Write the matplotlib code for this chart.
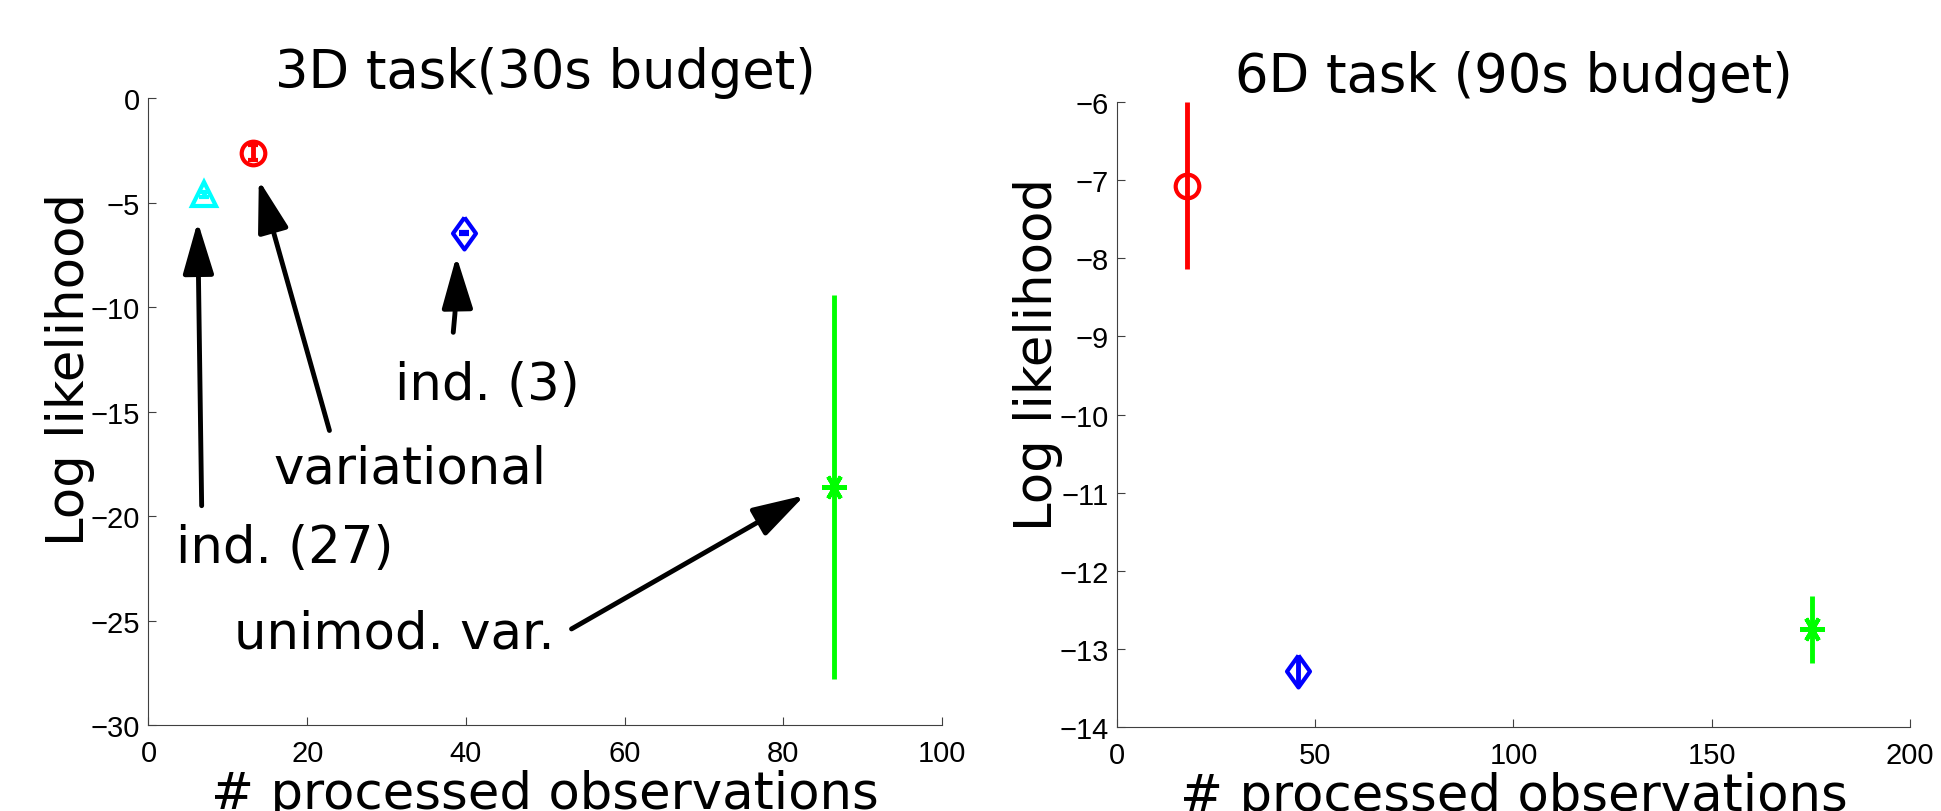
import numpy as np
import matplotlib.pyplot as plt

# 3D task (30s budget)
names_3d = ['ind. (27)', 'variational', 'ind. (3)', 'unimod. var.']
obs_3d = [7.0, 13.2, 39.7, 86.4]
ll_3d = [-4.6, -2.6, -6.45, -18.6]
err_3d = [0.12, 0.35, 0.05, 9.2]

# 6D task (90s budget)
names_6d = ['variational', 'ind. (3)', 'unimod. var.']
obs_6d = [17.7, 45.6, 175.3]
ll_6d = [-7.07, -13.28, -12.75]
err_6d = [1.07, 0.18, 0.43]

xticks_3d = [0, 20, 40, 60, 80, 100]
yticks_3d = [0, -5, -10, -15, -20, -25, -30]
xticks_6d = [0, 50, 100, 150, 200]
yticks_6d = [-6, -7, -8, -9, -10, -11, -12, -13, -14]

# annotation layout (text pos, arrow tail, arrow head, curvature)
notes_3d = [
    ('ind. (27)', (3.5, -22.2), (6.7, -19.5), (6.2, -5.9), 0.0),
    ('variational', (15.8, -18.4), (22.8, -15.9), (13.9, -3.9), 0.0),
    ('ind. (3)', (31.1, -14.4), (38.4, -11.2), (38.8, -7.55), 0.03),
    ('unimod. var.', (10.8, -26.3), (53.3, -25.4), (82.7, -19.0), 0.0),
]

diamond = [(0, 1), (0.72, 0), (0, -1), (-0.72, 0), (0, 1)]
style = {
    'ind. (27)': dict(color=(0, 1, 1), marker='^', ms=17),
    'variational': dict(color=(1, 0, 0), marker='o', ms=17),
    'ind. (3)': dict(color=(0, 0, 1), marker=diamond, ms=23),
    'unimod. var.': dict(color=(0, 1, 0), marker=(6, 2, 90), ms=18),
}

plt.rcParams['font.family'] = ['Liberation Sans', 'DejaVu Sans']
big = dict(family='DejaVu Sans', fontsize=37)

fig = plt.figure(figsize=(19.41, 8.12), dpi=100)
ax1 = fig.add_axes([0.0765, 0.1059, 0.4089, 0.7717])
ax2 = fig.add_axes([0.5755, 0.1034, 0.4085, 0.7697])


def draw(ax, names, xs, ys, errs, cap_small):
    for n, x, y, e in zip(names, xs, ys, errs):
        st = style[n]
        cs = 3.5 if (cap_small and e < 1) else 0
        ax.errorbar([x], [y], yerr=[e], fmt='none', ecolor=st['color'],
                    elinewidth=3.5, capsize=cs, capthick=3, zorder=2)
        ax.plot([x], [y], ls='none', marker=st['marker'], ms=st['ms'],
                mfc='none', mec=st['color'], mew=3, zorder=3)


draw(ax1, names_3d, obs_3d, ll_3d, err_3d, True)
draw(ax2, names_6d, obs_6d, ll_6d, err_6d, False)

for label, tpos, tail, head, rad in notes_3d:
    ax1.text(tpos[0], tpos[1], label, ha='left', va='baseline', **big)
    ax1.annotate('', xy=head, xytext=tail,
                 arrowprops=dict(arrowstyle='-|>,head_length=3.2,head_width=0.95',
                                 lw=3.5, color='k', shrinkA=0, shrinkB=0,
                                 mutation_scale=10,
                                 connectionstyle='arc3,rad=%s' % rad))

for ax, title, xt, yt in [(ax1, '3D task(30s budget)', xticks_3d, yticks_3d),
                          (ax2, '6D task (90s budget)', xticks_6d, yticks_6d)]:
    ax.set_xlim(xt[0], xt[-1])
    ax.set_ylim(min(yt), max(yt))
    ax.set_xticks(xt)
    ax.set_yticks(yt)
    ax.spines['top'].set_visible(False)
    ax.spines['right'].set_visible(False)
    for s in ['left', 'bottom']:
        ax.spines[s].set_color('#404040')
        ax.spines[s].set_linewidth(0.8)
    ax.tick_params(direction='in', length=6, width=0.8, color='#404040',
                   labelcolor='k', labelsize=21)
    ax.tick_params(axis='y', pad=6)
    ax.tick_params(axis='x', pad=10)
    ax.set_title(title, pad=6, family='DejaVu Sans', fontsize=38)
    ax.set_xlabel('# processed observations', **big)
    ax.set_ylabel('Log likelihood', **big)
    ax.xaxis.set_label_coords(0.5, -0.07)

ax1.yaxis.set_label_coords(-0.067, 0.569)
ax2.yaxis.set_label_coords(-0.068, 0.597)

fig.savefig('out.png', dpi=100)
